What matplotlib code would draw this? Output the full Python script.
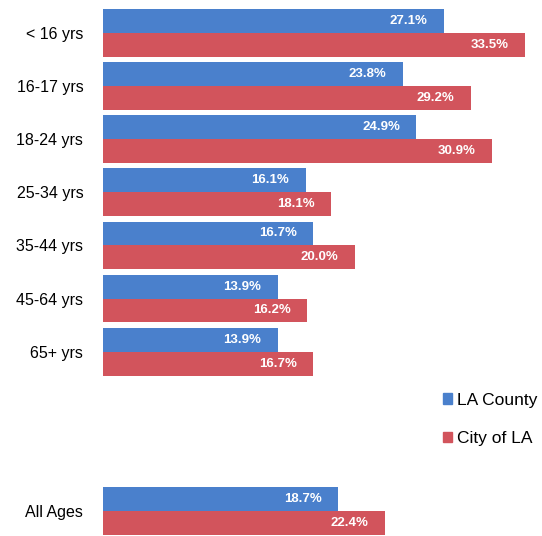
import numpy as np
import matplotlib.pyplot as plt
from matplotlib.patches import Patch

plt.rcParams['font.family'] = ['Liberation Sans', 'DejaVu Sans']

ages = ["< 16 yrs", "16-17 yrs", "18-24 yrs", "25-34 yrs", "35-44 yrs",
        "45-64 yrs", "65+ yrs", "All Ages"]
la_county = [27.1, 23.8, 24.9, 16.1, 16.7, 13.9, 13.9, 18.7]
city_of_la = [33.5, 29.2, 30.9, 18.1, 20.0, 16.2, 16.7, 22.4]
# gap between the age groups and "All Ages" holds the legend
pos = np.array([0, 1, 2, 3, 4, 5, 6, 9])

blue = "#4a80cc"
red = "#d2545c"
h = 0.45

fig = plt.figure(figsize=(5.42, 5.36), dpi=100)
ax = fig.add_axes([102.7 / 542, 0, 439.3 / 542, 1])

ax.barh(pos - h / 2, la_county, height=h, color=blue)
ax.barh(pos + h / 2, city_of_la, height=h, color=red)

for y, a, b in zip(pos, la_county, city_of_la):
    ax.text(a - 1.3, y - h / 2, f"{a:.1f}%", ha='right', va='center',
            color='white', fontsize=9.5, fontweight='bold')
    ax.text(b - 1.3, y + h / 2, f"{b:.1f}%", ha='right', va='center',
            color='white', fontsize=9.5, fontweight='bold')

ax.set_xlim(0, 34.87)
ax.set_ylim(9.47, -0.62)
ax.set_yticks(pos)
ax.set_yticklabels(ages, fontsize=11.5)
ax.tick_params(axis='y', length=0, pad=14)
ax.set_xticks([])
for s in ax.spines.values():
    s.set_visible(False)

handles = [Patch(color=blue, label="LA County"), Patch(color=red, label="City of LA")]
fig.legend(handles=handles, loc='upper left', bbox_to_anchor=(434 / 542, 1 - 384 / 536),
           frameon=False, fontsize=12.5, handlelength=0.55, handleheight=0.55,
           handletextpad=0.3, labelspacing=1.35, borderpad=0)

fig.savefig("out.png", dpi=100)
